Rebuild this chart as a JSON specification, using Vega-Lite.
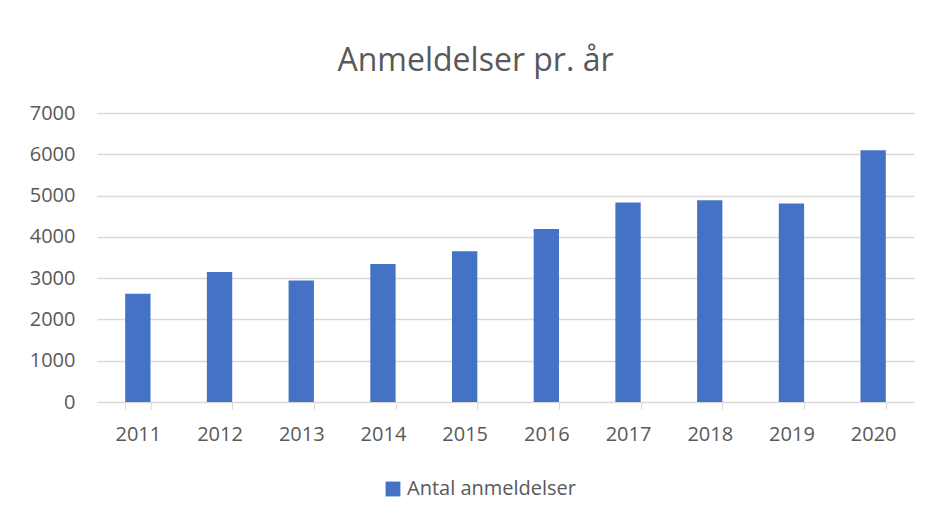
{
  "$schema": "https://vega.github.io/schema/vega-lite/v6.json",
  "autosize": "none",
  "width": 817,
  "height": 289,
  "padding": {"left": 97, "top": 113, "right": 21, "bottom": 118},
  "background": "white",
  "title": {
    "text": "Anmeldelser pr. år",
    "anchor": "middle",
    "frame": "group",
    "dx": -30,
    "offset": 25,
    "fontSize": 32,
    "fontWeight": "normal",
    "font": "Open Sans",
    "color": "#595959"
  },
  "data": {
    "values": [
      {"year": "2011", "series": "Antal anmeldelser", "value": 2620},
      {"year": "2012", "series": "Antal anmeldelser", "value": 3150},
      {"year": "2013", "series": "Antal anmeldelser", "value": 2940},
      {"year": "2014", "series": "Antal anmeldelser", "value": 3340},
      {"year": "2015", "series": "Antal anmeldelser", "value": 3650},
      {"year": "2016", "series": "Antal anmeldelser", "value": 4190},
      {"year": "2017", "series": "Antal anmeldelser", "value": 4835},
      {"year": "2018", "series": "Antal anmeldelser", "value": 4885},
      {"year": "2019", "series": "Antal anmeldelser", "value": 4810},
      {"year": "2020", "series": "Antal anmeldelser", "value": 6095}
    ]
  },
  "mark": {"type": "bar"},
  "encoding": {
    "x": {
      "field": "year",
      "type": "nominal",
      "title": null,
      "scale": {"paddingInner": 0.69, "paddingOuter": 0.345},
      "axis": {
        "labelAngle": 0,
        "tickBand": "extent",
        "tickSize": 7,
        "tickColor": "#d9d9d9",
        "domainColor": "#d9d9d9",
        "labelPadding": 15,
        "labelFontSize": 20,
        "labelFont": "Open Sans",
        "labelColor": "#595959",
        "grid": false
      }
    },
    "y": {
      "field": "value",
      "type": "quantitative",
      "title": null,
      "scale": {"domain": [0, 7000], "nice": false},
      "axis": {
        "values": [0, 1000, 2000, 3000, 4000, 5000, 6000, 7000],
        "format": "d",
        "ticks": false,
        "domain": false,
        "labelPadding": 22,
        "labelFontSize": 20,
        "labelFont": "Open Sans",
        "labelColor": "#595959",
        "gridColor": "#d9d9d9",
        "gridWidth": 1.3
      }
    },
    "color": {
      "field": "series",
      "type": "nominal",
      "scale": {"range": ["#4472c4"]},
      "legend": {
        "title": null,
        "orient": "none",
        "legendX": 286,
        "legendY": 366,
        "symbolType": "square",
        "symbolSize": 220,
        "symbolStrokeWidth": 0,
        "labelLimit": 0,
        "labelFontSize": 20,
        "labelFont": "Open Sans",
        "labelColor": "#595959"
      }
    }
  },
  "config": {"view": {"stroke": null}}
}
